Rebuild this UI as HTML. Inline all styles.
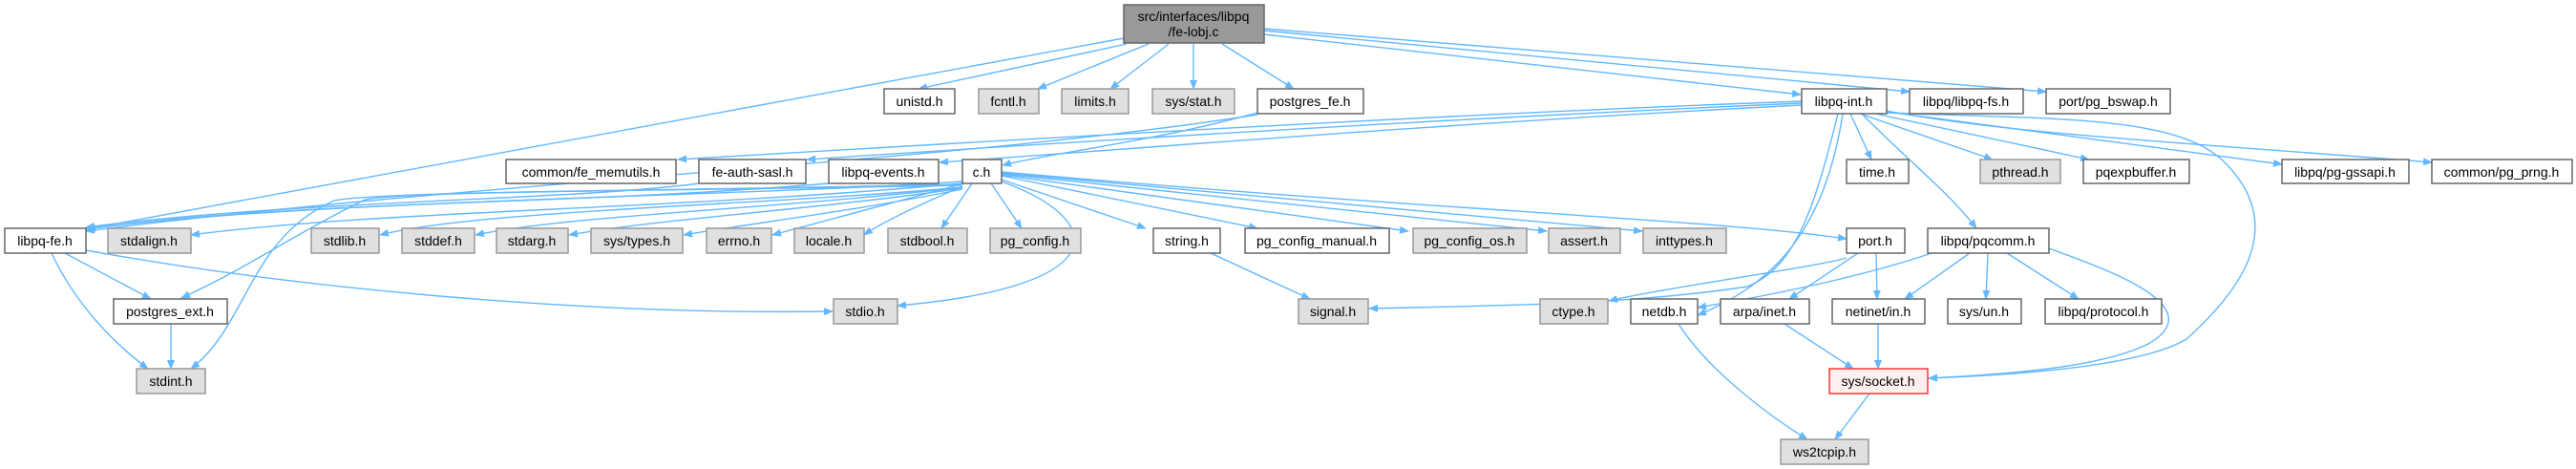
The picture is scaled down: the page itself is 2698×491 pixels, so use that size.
<!DOCTYPE html>
<html><head><meta charset="utf-8"><style>
html,body{margin:0;padding:0;background:#fff;}
svg{display:block;}
text{font-family:"Liberation Sans","DejaVu Sans",sans-serif;font-size:14px;fill:#000;text-anchor:middle;}
.e{fill:none;stroke:#63b8ff;stroke-width:1.4;marker-end:url(#a);}
.w{fill:#fff;stroke:#666;stroke-width:1.5;}
.g{fill:#e0e0e0;stroke:#999;stroke-width:1.5;}
</style></head><body>
<svg width="2698" height="491" viewBox="0 0 2698 491" xmlns="http://www.w3.org/2000/svg">
<defs><marker id="a" markerWidth="10" markerHeight="8" refX="9" refY="4" orient="auto" markerUnits="userSpaceOnUse"><path d="M0,0 L10,4 L0,8 z" fill="#63b8ff"/></marker></defs>
<path class="e" d="M1177,40 L90,240"/>
<path class="e" d="M1180,46 L962,93"/>
<path class="e" d="M1203,46 L1087,93"/>
<path class="e" d="M1224,46 L1163,93"/>
<path class="e" d="M1250,46 L1250,93"/>
<path class="e" d="M1280,46 L1355,93"/>
<path class="e" d="M1324,36 L1886,99"/>
<path class="e" d="M1324,32 L2000,96"/>
<path class="e" d="M1324,30 L2143,96"/>
<path class="e" d="M1317,118 C1200,150 1100,160 1050,173"/>
<path class="e" d="M1317,120 C1000,170 500,190 90,242"/>
<path class="e" d="M1887,106 C1500,120 1000,150 710,167"/>
<path class="e" d="M1887,108 C1500,125 1100,150 845,167"/>
<path class="e" d="M1887,110 C1500,130 1200,155 984,170"/>
<path class="e" d="M1938,119 L1960,167"/>
<path class="e" d="M1948,119 L2087,167"/>
<path class="e" d="M1964,119 L2188,167"/>
<path class="e" d="M1976,117 L2390,172"/>
<path class="e" d="M1976,116 C2100,140 2300,150 2547,170"/>
<path class="e" d="M1950,119 C2000,170 2040,200 2070,239"/>
<path class="e" d="M1925,119 C1900,220 1880,280 1830,300 C1700,320 1550,320 1434,323"/>
<path class="e" d="M1930,119 C1910,250 1850,300 1778,330"/>
<path class="e" d="M1976,118 C2150,125 2280,120 2330,170 C2400,240 2340,310 2290,355 C2240,385 2100,393 2020,396"/>
<path class="e" d="M732,192 C600,210 300,210 90,238"/>
<path class="e" d="M868,192 C600,215 300,210 90,240"/>
<path class="e" d="M1008,190 C800,205 300,210 91,240"/>
<path class="e" d="M1008,192 C700,220 400,220 200,246"/>
<path class="e" d="M1008,196 C800,215 500,220 398,246"/>
<path class="e" d="M1008,196 C800,220 600,225 498,246"/>
<path class="e" d="M1008,197 C850,220 700,228 596,246"/>
<path class="e" d="M1008,198 C900,220 800,232 716,246"/>
<path class="e" d="M1010,192 L809,246"/>
<path class="e" d="M1008,195 C950,220 920,235 905,246"/>
<path class="e" d="M1018,192 L986,239"/>
<path class="e" d="M1038,192 L1070,239"/>
<path class="e" d="M1049,188 L1200,239"/>
<path class="e" d="M1049,184 L1317,239"/>
<path class="e" d="M1049,183 L1475,242"/>
<path class="e" d="M1049,182 L1620,242"/>
<path class="e" d="M1049,181 L1720,242"/>
<path class="e" d="M1049,180 C1500,220 1800,230 1934,250"/>
<path class="e" d="M1049,190 C1160,230 1170,300 940,320"/>
<path class="e" d="M1008,194 C700,200 400,200 380,210 C300,250 260,280 190,312"/>
<path class="e" d="M1008,193 C700,200 400,200 350,210 C260,250 260,340 200,386"/>
<path class="e" d="M68,265 L158,313"/>
<path class="e" d="M54,265 C80,320 120,360 155,386"/>
<path class="e" d="M90,262 C300,300 600,330 872,326"/>
<path class="e" d="M179,339 L179,386"/>
<path class="e" d="M1268,265 L1372,313"/>
<path class="e" d="M1934,270 C1900,280 1750,300 1685,315"/>
<path class="e" d="M1946,265 L1874,313"/>
<path class="e" d="M1965,265 L1966,313"/>
<path class="e" d="M2023,265 C1950,290 1850,310 1778,322"/>
<path class="e" d="M2063,265 L1995,313"/>
<path class="e" d="M2082,265 L2080,313"/>
<path class="e" d="M2102,265 L2177,313"/>
<path class="e" d="M2146,260 C2200,280 2320,320 2250,360 C2200,385 2100,392 2020,396"/>
<path class="e" d="M1869,339 L1941,386"/>
<path class="e" d="M1967,339 L1967,386"/>
<path class="e" d="M1758,339 C1790,390 1860,440 1893,460"/>
<path class="e" d="M1958,412 L1922,460"/>

<rect x="1177" y="5" width="147" height="40" fill="#999" stroke="#666" stroke-width="1.5"/>
<text x="1250" y="22">src/interfaces/libpq</text><text x="1250" y="38">/fe-lobj.c</text>
<g>
<rect class="w" x="926" y="93" width="74" height="26"/><text x="963" y="111">unistd.h</text>
<rect class="g" x="1025" y="93" width="63" height="26"/><text x="1056" y="111">fcntl.h</text>
<rect class="g" x="1112" y="93" width="70" height="26"/><text x="1147" y="111">limits.h</text>
<rect class="g" x="1207" y="93" width="86" height="26"/><text x="1250" y="111">sys/stat.h</text>
<rect class="w" x="1317" y="93" width="111" height="26"/><text x="1372" y="111">postgres_fe.h</text>
<rect class="w" x="1887" y="93" width="89" height="26"/><text x="1931" y="111">libpq-int.h</text>
<rect class="w" x="2000" y="93" width="119" height="26"/><text x="2059" y="111">libpq/libpq-fs.h</text>
<rect class="w" x="2143" y="93" width="130" height="26"/><text x="2208" y="111">port/pg_bswap.h</text>

<rect class="w" x="530" y="167" width="178" height="25"/><text x="619" y="185">common/fe_memutils.h</text>
<rect class="w" x="732" y="167" width="112" height="25"/><text x="788" y="185">fe-auth-sasl.h</text>
<rect class="w" x="868" y="167" width="115" height="25"/><text x="925" y="185">libpq-events.h</text>
<rect class="w" x="1008" y="167" width="41" height="25"/><text x="1028" y="185">c.h</text>
<rect class="w" x="1934" y="167" width="65" height="25"/><text x="1966" y="185">time.h</text>
<rect class="g" x="2074" y="167" width="84" height="25"/><text x="2116" y="185">pthread.h</text>
<rect class="w" x="2182" y="167" width="111" height="25"/><text x="2237" y="185">pqexpbuffer.h</text>
<rect class="w" x="2390" y="167" width="133" height="25"/><text x="2456" y="185">libpq/pg-gssapi.h</text>
<rect class="w" x="2547" y="167" width="147" height="25"/><text x="2620" y="185">common/pg_prng.h</text>

<rect class="w" x="5" y="239" width="85" height="26"/><text x="47" y="257">libpq-fe.h</text>
<rect class="g" x="113" y="239" width="87" height="26"/><text x="156" y="257">stdalign.h</text>
<rect class="g" x="326" y="239" width="71" height="26"/><text x="361" y="257">stdlib.h</text>
<rect class="g" x="421" y="239" width="76" height="26"/><text x="459" y="257">stddef.h</text>
<rect class="g" x="520" y="239" width="75" height="26"/><text x="557" y="257">stdarg.h</text>
<rect class="g" x="619" y="239" width="96" height="26"/><text x="667" y="257">sys/types.h</text>
<rect class="g" x="740" y="239" width="68" height="26"/><text x="774" y="257">errno.h</text>
<rect class="g" x="832" y="239" width="73" height="26"/><text x="868" y="257">locale.h</text>
<rect class="g" x="930" y="239" width="83" height="26"/><text x="971" y="257">stdbool.h</text>
<rect class="g" x="1037" y="239" width="95" height="26"/><text x="1084" y="257">pg_config.h</text>
<rect class="w" x="1208" y="239" width="70" height="26"/><text x="1243" y="257">string.h</text>
<rect class="w" x="1304" y="239" width="151" height="26"/><text x="1379" y="257">pg_config_manual.h</text>
<rect class="g" x="1480" y="239" width="119" height="26"/><text x="1539" y="257">pg_config_os.h</text>
<rect class="g" x="1622" y="239" width="75" height="26"/><text x="1659" y="257">assert.h</text>
<rect class="g" x="1721" y="239" width="87" height="26"/><text x="1764" y="257">inttypes.h</text>
<rect class="w" x="1934" y="239" width="61" height="26"/><text x="1964" y="257">port.h</text>
<rect class="w" x="2019" y="239" width="127" height="26"/><text x="2082" y="257">libpq/pqcomm.h</text>

<rect class="w" x="119" y="313" width="119" height="26"/><text x="178" y="331">postgres_ext.h</text>
<rect class="g" x="873" y="313" width="67" height="26"/><text x="906" y="331">stdio.h</text>
<rect class="g" x="1360" y="313" width="73" height="26"/><text x="1396" y="331">signal.h</text>
<rect class="g" x="1613" y="313" width="71" height="26"/><text x="1648" y="331">ctype.h</text>
<rect class="w" x="1708" y="313" width="70" height="26"/><text x="1743" y="331">netdb.h</text>
<rect class="w" x="1802" y="313" width="93" height="26"/><text x="1848" y="331">arpa/inet.h</text>
<rect class="w" x="1919" y="313" width="97" height="26"/><text x="1967" y="331">netinet/in.h</text>
<rect class="w" x="2040" y="313" width="77" height="26"/><text x="2078" y="331">sys/un.h</text>
<rect class="w" x="2142" y="313" width="122" height="26"/><text x="2203" y="331">libpq/protocol.h</text>

<rect class="g" x="143" y="386" width="72" height="26"/><text x="179" y="404">stdint.h</text>
<rect x="1916" y="386" width="103" height="26" fill="#fff0f0" stroke="#f33" stroke-width="1.5"/><text x="1967" y="404">sys/socket.h</text>
<rect class="g" x="1865" y="460" width="92" height="26"/><text x="1911" y="478">ws2tcpip.h</text>
</g>
</svg>
</body></html>
